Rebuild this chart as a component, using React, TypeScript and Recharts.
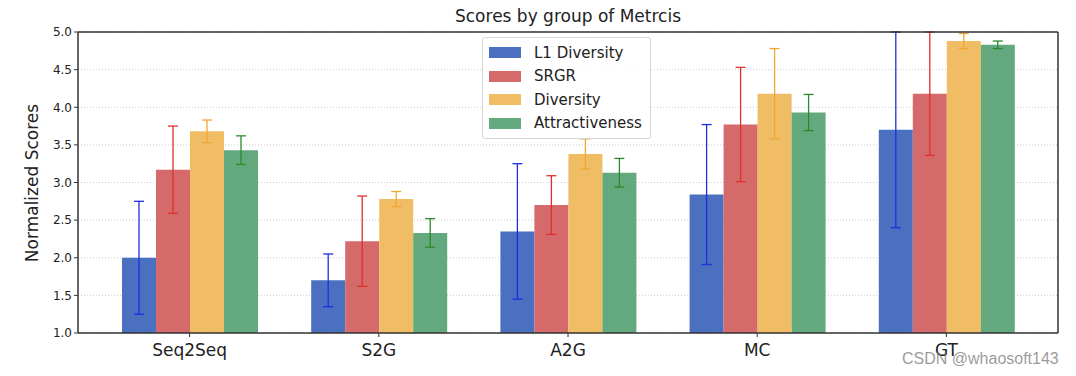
import { BarChart, Bar, XAxis, YAxis, CartesianGrid, ErrorBar } from 'recharts';

const categories = ['Seq2Seq', 'S2G', 'A2G', 'MC', 'GT'];

const l1Diversity = [2.0, 1.7, 2.35, 2.84, 3.7];
const l1DiversityErr = [0.75, 0.35, 0.9, 0.93, 1.3];
const srgr = [3.17, 2.22, 2.7, 3.77, 4.18];
const srgrErr = [0.58, 0.6, 0.39, 0.76, 0.82];
const diversity = [3.68, 2.78, 3.38, 4.18, 4.88];
const diversityErr = [0.15, 0.1, 0.2, 0.6, 0.1];
const attractiveness = [3.43, 2.33, 3.13, 3.93, 4.83];
const attractivenessErr = [0.19, 0.19, 0.19, 0.24, 0.05];

const yTicks = [1.0, 1.5, 2.0, 2.5, 3.0, 3.5, 4.0, 4.5, 5.0];

const series = [
  { key: 'l1', name: 'L1 Diversity', fill: '#4a70bf', err: '#1f2fe0' },
  { key: 'srgr', name: 'SRGR', fill: '#d46a6a', err: '#e0302c' },
  { key: 'div', name: 'Diversity', fill: '#f0bc64', err: '#f0a732' },
  { key: 'attr', name: 'Attractiveness', fill: '#64a97e', err: '#2a8a2a' },
];

const data = categories.map((c, i) => ({
  name: c,
  l1: l1Diversity[i],
  l1Err: l1DiversityErr[i],
  srgr: srgr[i],
  srgrErr: srgrErr[i],
  div: diversity[i],
  divErr: diversityErr[i],
  attr: attractiveness[i],
  attrErr: attractivenessErr[i],
}));

const FONT = '"DejaVu Sans", sans-serif';

function LegendBox() {
  return (
    <div
      style={{
        position: 'absolute',
        left: 482,
        top: 37,
        border: '1px solid #d6d6d6',
        borderRadius: 3,
        background: 'rgba(255,255,255,0.85)',
        padding: '3px 8px 3px 6px',
        fontFamily: FONT,
        fontSize: 15,
        color: '#222',
      }}
    >
      {series.map((s) => (
        <div key={s.key} style={{ display: 'flex', alignItems: 'center', height: 23.5 }}>
          <span style={{ width: 32, height: 11, background: s.fill, marginRight: 13 }} />
          <span>{s.name}</span>
        </div>
      ))}
    </div>
  );
}

export default function App() {
  return (
    <div style={{ position: 'absolute', left: 0, top: 0, width: 1076, height: 376, background: '#fff' }}>
      <div
        style={{
          position: 'absolute',
          left: 0,
          width: 1136,
          top: 6,
          textAlign: 'center',
          fontFamily: FONT,
          fontSize: 17,
          color: '#222',
        }}
      >
        Scores by group of Metrcis
      </div>
      <div
        style={{
          position: 'absolute',
          left: 32,
          top: 183,
          transform: 'translate(-50%, -50%) rotate(-90deg)',
          whiteSpace: 'nowrap',
          fontFamily: FONT,
          fontSize: 17,
          color: '#222',
        }}
      >
        Normalized Scores
      </div>
      <BarChart
        width={1076}
        height={376}
        data={data}
        margin={{ top: 31, right: 17, bottom: 13, left: 28 }}
        barGap={0}
        barSize={34}
      >
        <CartesianGrid vertical={false} horizontal stroke="#cfcfcf" strokeDasharray="1 2" />
        <XAxis
          dataKey="name"
          height={30}
          padding={{ left: 17, right: 17 }}
          axisLine={{ stroke: '#333', strokeWidth: 1.5 }}
          tickLine={{ stroke: '#333' }}
          tickSize={4}
          tickMargin={7}
          tick={{ fontSize: 17, fill: '#222', fontFamily: FONT }}
          interval={0}
        />
        <XAxis
          xAxisId="top"
          dataKey="name"
          orientation="top"
          height={1}
          padding={{ left: 17, right: 17 }}
          axisLine={{ stroke: '#333', strokeWidth: 1.5 }}
          tick={false}
          tickLine={false}
        />
        <YAxis
          domain={[1, 5]}
          ticks={yTicks}
          allowDataOverflow
          width={50}
          axisLine={{ stroke: '#333', strokeWidth: 1.5 }}
          tickLine={{ stroke: '#333' }}
          tickSize={4}
          tickFormatter={(v: number) => v.toFixed(1)}
          tick={{ fontSize: 12, fill: '#222', fontFamily: FONT }}
        />
        <YAxis
          yAxisId="right"
          orientation="right"
          domain={[1, 5]}
          width={1}
          axisLine={{ stroke: '#333', strokeWidth: 1.5 }}
          tick={false}
          tickLine={false}
        />
        {series.map((s) => (
          <Bar key={s.key} dataKey={s.key} name={s.name} fill={s.fill} isAnimationActive={false}>
            <ErrorBar dataKey={`${s.key}Err`} width={5} stroke={s.err} strokeWidth={1.3} />
          </Bar>
        ))}
      </BarChart>
      <LegendBox />
      <div
        style={{
          position: 'absolute',
          left: 902,
          top: 350,
          fontFamily: '"Liberation Sans", Arial, sans-serif',
          fontSize: 16,
          color: 'rgba(120,120,120,0.75)',
        }}
      >
        CSDN @whaosoft143
      </div>
    </div>
  );
}
